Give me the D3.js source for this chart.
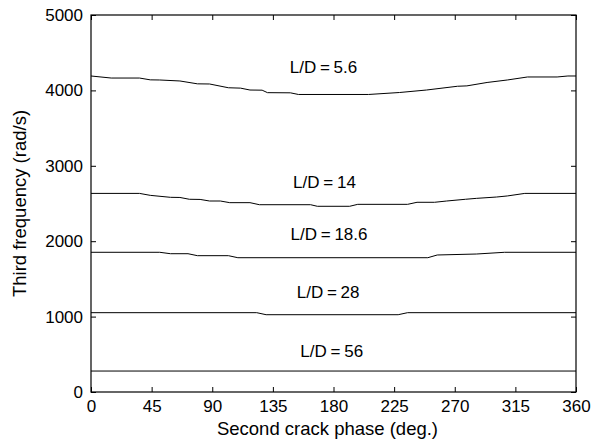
<!DOCTYPE html>
<html>
<head>
<meta charset="utf-8">
<script src="https://cdn.jsdelivr.net/npm/d3@7"></script>
<style>
  body { margin: 0; background: #fff; }
  svg text { font-family: Arial, "Liberation Sans", sans-serif; fill: #000; }
</style>
</head>
<body>
<div id="chart"></div>
<script>
const WIDTH = 593;
const HEIGHT = 443;
const MARGIN = { left: 91, right: 17, top: 15, bottom: 51 };
const FONT_SIZE = 17;
const TITLE_SIZE = 18.5;

// phase (deg) / frequency (rad/s) pairs
const ld56 = [[0, 278], [360, 278]];
const ld28 = [[0, 1052], [123, 1052], [130, 1025], [228, 1025], [235, 1052], [360, 1052]];
const ld186 = [[0, 1853], [51, 1853], [59, 1834], [72, 1834], [79, 1808], [102, 1808], [109, 1781],
  [250, 1781], [257, 1817], [286, 1830], [307, 1853], [360, 1853]];
const ld14 = [[0, 2634], [36, 2634], [44, 2608], [59, 2582], [66, 2580], [73, 2556], [81, 2554],
  [88, 2533], [96, 2533], [103, 2511], [118, 2511], [125, 2484], [163, 2484], [168, 2463],
  [192, 2463], [198, 2489], [235, 2489], [242, 2516], [255, 2516], [264, 2533], [278, 2556],
  [286, 2568], [301, 2586], [309, 2600], [322, 2634], [360, 2634]];
const ld5_6 = [[0, 4191], [15, 4164], [36, 4164], [44, 4140], [51, 4138], [66, 4125], [79, 4087],
  [88, 4085], [102, 4035], [111, 4030], [118, 4005], [127, 4003], [131, 3970], [148, 3968],
  [154, 3946], [206, 3946], [229, 3972], [249, 4005], [272, 4055], [279, 4060], [294, 4105],
  [309, 4138], [324, 4178], [346, 4178], [354, 4191], [360, 4191]];

const seriesList = [ld5_6, ld14, ld186, ld28, ld56];

// label text, centre phase, baseline frequency
const labelTexts = ['L/D = 5.6', 'L/D = 14', 'L/D = 18.6', 'L/D = 28', 'L/D = 56'];
const labelPhases = [172.6, 173.3, 176.7, 176, 178.7];
const labelValues = [4231, 2710, 2016, 1243, 468];

const xTicks = [0, 45, 90, 135, 180, 225, 270, 315, 360];
const yTicks = [0, 1000, 2000, 3000, 4000, 5000];

const svg = d3.select('#chart')
  .append('svg')
  .attr('width', WIDTH)
  .attr('height', HEIGHT);

const x = d3.scaleLinear()
  .domain([0, 360])
  .range([MARGIN.left, WIDTH - MARGIN.right]);

const y = d3.scaleLinear()
  .domain([0, 5000])
  .range([HEIGHT - MARGIN.bottom, MARGIN.top]);

const line = d3.line()
  .x(d => x(d[0]))
  .y(d => y(d[1]));

seriesList.forEach(s => {
  svg.append('path')
    .datum(s)
    .attr('fill', 'none')
    .attr('stroke', '#000')
    .attr('stroke-width', 1)
    .attr('d', line);
});

function styleAxis(g) {
  g.select('.domain').remove();
  g.selectAll('.tick line').attr('stroke', '#000');
  g.selectAll('.tick text').style('font-size', FONT_SIZE + 'px').attr('fill', '#000');
}

svg.append('g')
  .attr('transform', `translate(0,${HEIGHT - MARGIN.bottom})`)
  .call(d3.axisBottom(x).tickValues(xTicks).tickSize(-5).tickPadding(8).tickFormat(d3.format('d')))
  .call(styleAxis);

svg.append('g')
  .attr('transform', `translate(0,${MARGIN.top})`)
  .call(d3.axisTop(x).tickValues(xTicks).tickSize(-5).tickFormat(''))
  .call(styleAxis);

svg.append('g')
  .attr('transform', `translate(${MARGIN.left},0)`)
  .call(d3.axisLeft(y).tickValues(yTicks).tickSize(-5).tickPadding(8).tickFormat(d3.format('d')))
  .call(styleAxis);

svg.append('g')
  .attr('transform', `translate(${WIDTH - MARGIN.right},0)`)
  .call(d3.axisRight(y).tickValues(yTicks).tickSize(-5).tickFormat(''))
  .call(styleAxis);

svg.append('rect')
  .attr('x', x(0))
  .attr('y', y(5000))
  .attr('width', x(360) - x(0))
  .attr('height', y(0) - y(5000))
  .attr('fill', 'none')
  .attr('stroke', '#000')
  .attr('stroke-width', 1.2);

labelTexts.forEach((t, i) => {
  svg.append('text')
    .attr('x', x(labelPhases[i]))
    .attr('y', y(labelValues[i]))
    .style('text-anchor', 'middle')
    .style('font-size', FONT_SIZE + 'px')
    .style('word-spacing', '-1px')
    .text(t);
});

svg.append('text')
  .attr('x', (x(0) + x(360)) / 2 - 6)
  .attr('y', 435)
  .style('text-anchor', 'middle')
  .style('font-size', TITLE_SIZE + 'px')
  .text('Second crack phase (deg.)');

svg.append('text')
  .attr('transform', `translate(26,${(y(0) + y(5000)) / 2}) rotate(-90)`)
  .style('text-anchor', 'middle')
  .style('font-size', TITLE_SIZE + 'px')
  .text('Third frequency (rad/s)');
</script>
</body>
</html>
